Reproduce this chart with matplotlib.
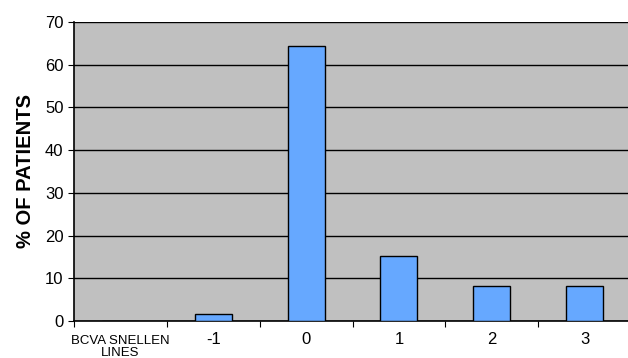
import matplotlib.pyplot as plt
import numpy as np

plt.rcParams['font.family'] = ['Liberation Sans', 'DejaVu Sans']

# change in BCVA Snellen lines
categories = ["BCVA SNELLEN\nLINES", "-1", "0", "1", "2", "3"]
pct_patients = [0, 1.6, 64.3, 15.2, 8.3, 8.3]
y_ticks = [0, 10, 20, 30, 40, 50, 60, 70]

fig = plt.figure(figsize=(6.28, 3.58), dpi=100)
ax = fig.add_axes([74/628, 37/358, 557/628, 299/358])
ax.set_facecolor("#C0C0C0")

x = np.arange(len(categories))
ax.bar(x, pct_patients, width=0.4, color="#66A8FF", edgecolor="black", linewidth=1, zorder=3)

ax.set_xlim(-0.5, len(categories) - 0.5)
ax.set_ylim(0, 70)
ax.set_yticks(y_ticks)
ax.set_yticklabels([str(t) for t in y_ticks], fontsize=12)
ax.yaxis.grid(True, color="black", linewidth=1, zorder=1)

# category labels in the middle, ticks at the boundaries
ax.set_xticks(x - 0.5)
ax.set_xticklabels([])
ax.set_xticks(x, minor=True)
ax.set_xticklabels(categories, minor=True)
ax.tick_params(axis="x", which="minor", length=0, labelsize=12, pad=8)
ax.tick_params(axis="x", which="major", length=4, direction="out")
ax.tick_params(axis="y", length=4, direction="out")
lbls = ax.get_xticklabels(minor=True)
lbls[0].set_fontsize(9.5)
lbls[0].set_linespacing(1.0)
lbls[0].set_y(-0.01)

for s in ["top", "right"]:
    ax.spines[s].set_visible(False)
ax.spines["left"].set_linewidth(1.2)
ax.spines["bottom"].set_linewidth(1.2)

ax.set_ylabel("% OF PATIENTS", fontsize=14.5, fontweight="bold", labelpad=7)

fig.savefig("out.png", dpi=100)
